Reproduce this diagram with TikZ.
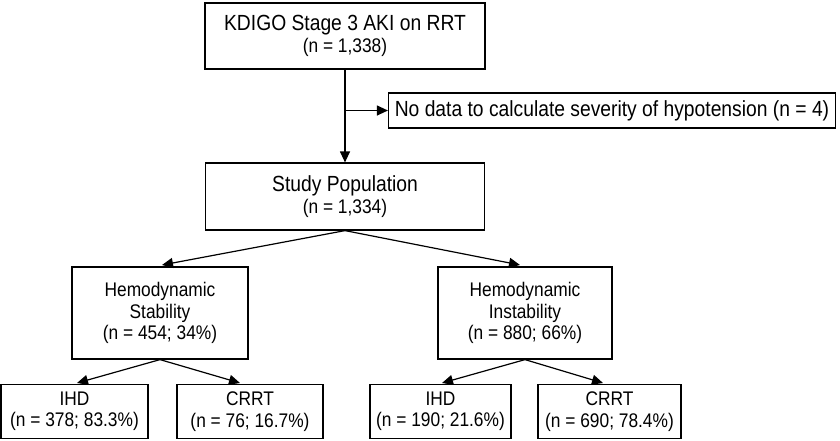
\documentclass[tikz,border=0pt]{standalone}
\usepackage{fontspec}
\setmainfont{Liberation Sans}[FakeStretch=0.88]
\usetikzlibrary{arrows.meta}
\newcommand{\bigtxt}{\fontsize{21.9}{23}\selectfont}
\newcommand{\smtxt}{\fontsize{19.7}{21.5}\selectfont}
\begin{document}
\begin{tikzpicture}[x=1pt,y=-1pt,
  box/.style={draw=black, line width=1.2pt, inner sep=0pt, align=center,
    font=\smtxt},
  arr/.style={line width=1.2pt, -{Triangle[length=11pt,width=10pt]}}]
\useasboundingbox (0,0) rectangle (840,440);
\node[box, minimum width=280pt, minimum height=66pt] (top) at (345,36) {{\bigtxt KDIGO Stage 3 AKI on RRT}\\(n = 1,338)};
\node[box, minimum width=447pt, minimum height=35pt, font=\bigtxt] (side) at (612,110.5) {No data to calculate severity of hypotension (n = 4)};
\node[box, minimum width=279pt, minimum height=67pt] (study) at (345,196.5) {{\bigtxt Study Population}\\(n = 1,334)};
\node[box, minimum width=176pt, minimum height=92pt] (stab) at (160,313) {Hemodynamic\\Stability\\(n = 454; 34\%)};
\node[box, minimum width=174pt, minimum height=92pt] (inst) at (525,313) {Hemodynamic\\Instability\\(n = 880; 66\%)};
\node[box, minimum width=147pt, minimum height=54pt] (ihdA) at (74.5,411.5) {IHD\\(n = 378; 83.3\%)};
\node[box, minimum width=146pt, minimum height=54pt] (crrtA) at (250,411.5) {CRRT\\(n = 76; 16.7\%)};
\node[box, minimum width=141pt, minimum height=54pt] (ihdB) at (440.5,411.5) {IHD\\(n = 190; 21.6\%)};
\node[box, minimum width=143pt, minimum height=54pt] (crrtB) at (609.5,411.5) {CRRT\\(n = 690; 78.4\%)};
\coordinate (j) at (top.south |- side.west);
\coordinate (tStab) at (162,265);
\coordinate (tInst) at (520,265);
\coordinate (tIhdA) at (77,383);
\coordinate (tCrrtA) at (240,383);
\coordinate (tIhdB) at (442,383);
\coordinate (tCrrtB) at (603,383);
\draw[arr] (top.south) -- (study.north);
\draw[arr] (j) -- (side.west);
\draw[arr] (study.south) -- (tStab);
\draw[arr] (study.south) -- (tInst);
\draw[arr] (stab.south) -- (tIhdA);
\draw[arr] (stab.south) -- (tCrrtA);
\draw[arr] (inst.south) -- (tIhdB);
\draw[arr] (inst.south) -- (tCrrtB);
\end{tikzpicture}
\end{document}
